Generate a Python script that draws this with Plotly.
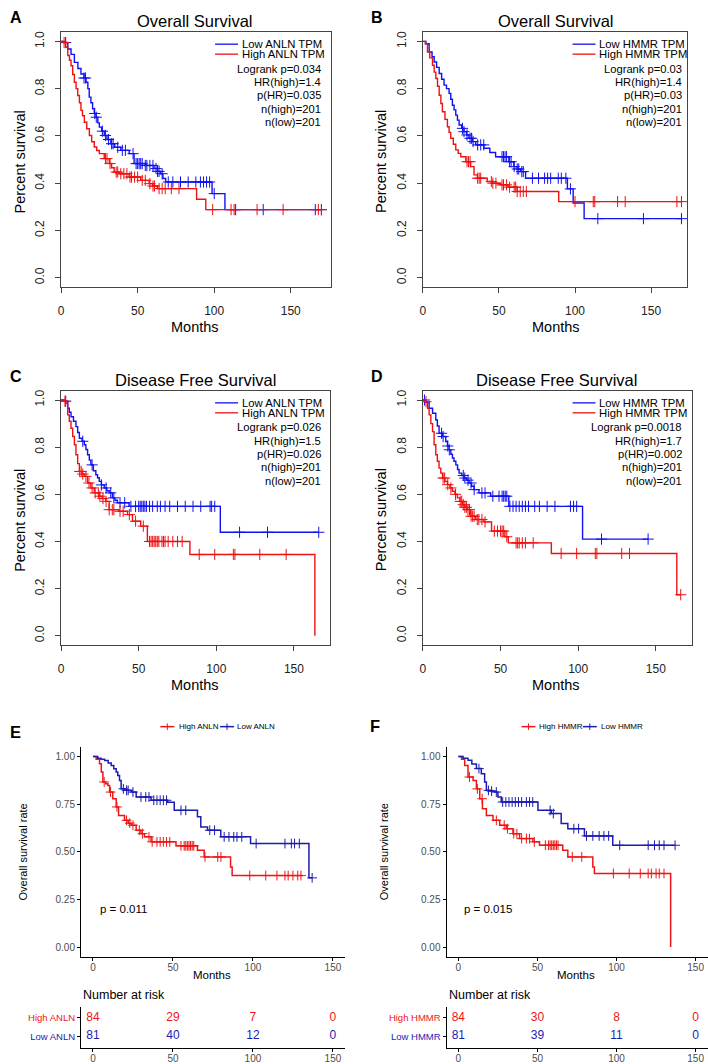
import plotly.graph_objects as go

W, H = 708, 1064
FONT = "Liberation Sans"
BLUE_G, RED_G = "#1010f0", "#f01010"      # GEPIA panels
BLUE_S, RED_S = "#1c1cb0", "#ee1515"      # survminer panels

# ---------------- data (months, survival after each event) ----------------
A_low_t = [2, 4.4, 6.5, 8.7, 11, 13, 15, 16.3, 17.5, 18.4, 19.5, 20.6, 21.7, 22.8, 24, 25, 26.5, 28.2, 30, 32.5, 35, 39, 44.5, 47.7, 55, 60.7, 63, 65, 66.5, 68.3, 98.6, 107]
A_low_s = [0.995, 0.968, 0.945, 0.911, 0.885, 0.862, 0.845, 0.827, 0.80, 0.764, 0.74, 0.715, 0.695, 0.679, 0.655, 0.637, 0.62, 0.602, 0.585, 0.567, 0.552, 0.539, 0.525, 0.483, 0.475, 0.462, 0.45, 0.44, 0.42, 0.405, 0.356, 0.288]
A_low_end = 170
A_low_cens = [3, 15, 16, 22, 23, 27, 29, 31, 33, 34, 37, 40, 42, 47, 49, 50, 51, 52, 53, 55, 56, 58, 60, 62, 63, 64, 66, 70, 73, 78, 83, 88, 91, 93, 95, 97, 100, 114, 132, 166, 170]
A_high_t = [1.5, 3, 4.4, 5.5, 6.5, 7.6, 8.7, 9.8, 10.9, 12, 13, 14, 15.2, 16.8, 18.5, 20, 21.7, 23.3, 25, 28.2, 31.5, 33, 34.7, 38, 44.5, 52, 57.5, 60, 62.9, 88.5, 94.5]
A_high_s = [0.995, 0.975, 0.94, 0.92, 0.897, 0.86, 0.827, 0.80, 0.771, 0.74, 0.708, 0.685, 0.658, 0.63, 0.602, 0.575, 0.553, 0.538, 0.525, 0.504, 0.483, 0.465, 0.447, 0.44, 0.426, 0.412, 0.398, 0.388, 0.377, 0.332, 0.288]
A_high_end = 170
A_high_cens = [2, 29, 30, 32, 36, 37, 39, 41, 43, 45, 46, 48, 50, 53, 55, 58, 60, 61, 64, 66, 68, 72, 77, 99, 111, 113, 128, 145, 168, 170]

B_low_t = [2, 4.1, 6, 7.4, 9, 10.7, 12.3, 13.9, 15.5, 17.2, 18.3, 19.4, 20.5, 21.6, 22.7, 23.8, 25.5, 27, 28.7, 30.3, 32.5, 34.7, 40.1, 44, 47.8, 56.5, 59.8, 62, 64.2, 67.5, 95, 98.8, 106]
B_low_s = [0.99, 0.955, 0.935, 0.913, 0.89, 0.864, 0.84, 0.815, 0.80, 0.78, 0.755, 0.73, 0.71, 0.688, 0.667, 0.646, 0.632, 0.618, 0.604, 0.59, 0.576, 0.562, 0.548, 0.53, 0.512, 0.491, 0.47, 0.46, 0.449, 0.421, 0.376, 0.316, 0.25]
B_low_end = 170
B_low_cens = [26, 27, 29, 31, 32, 33, 36, 38, 40, 52, 53, 54, 55, 57, 58, 60, 62, 63, 65, 66, 72, 76, 80, 82, 84, 89, 91, 94, 97, 115, 145, 170]
B_high_t = [1.5, 3, 4.5, 6.3, 7.4, 8.5, 9.6, 10.7, 11.8, 12.8, 14.5, 16.1, 17.2, 18.3, 20, 21.6, 23.2, 24.9, 28.2, 31.4, 33.6, 35.8, 42.3, 46, 51.1, 56, 62, 89.3]
B_high_s = [0.99, 0.955, 0.93, 0.899, 0.87, 0.843, 0.81, 0.772, 0.737, 0.702, 0.67, 0.639, 0.615, 0.59, 0.565, 0.541, 0.526, 0.512, 0.491, 0.47, 0.435, 0.421, 0.407, 0.40, 0.393, 0.383, 0.365, 0.322]
B_high_end = 170
B_high_cens = [29, 30, 31, 36, 37, 38, 45, 46, 48, 52, 53, 55, 57, 60, 61, 62, 64, 66, 68, 100, 112, 113, 128, 133, 167, 170]

C_low_t = [2, 4.3, 5.3, 6.4, 8, 9.6, 10.7, 11.8, 13.5, 15, 16, 17.1, 18.2, 19.2, 20.8, 22.4, 23.5, 24.6, 26, 27.8, 29.5, 31, 33.1, 34.7, 36.3, 43.8, 102.6]
C_low_s = [0.995, 0.965, 0.948, 0.929, 0.91, 0.887, 0.862, 0.838, 0.825, 0.81, 0.79, 0.768, 0.745, 0.725, 0.70, 0.683, 0.67, 0.655, 0.64, 0.627, 0.615, 0.606, 0.585, 0.575, 0.564, 0.549, 0.439]
C_low_end = 166
C_low_cens = [3, 14, 20, 26, 29, 32, 34, 38, 41, 45, 48, 50, 51, 52, 53, 54, 55, 57, 59, 62, 64, 67, 70, 75, 80, 85, 90, 96, 97, 99, 115, 133, 166]
C_high_t = [2, 3.2, 4.3, 5.3, 6.4, 7.5, 8.6, 9.6, 10.7, 11.8, 13.5, 15, 17.1, 19.2, 21.4, 24.6, 26.5, 28.8, 31, 37.4, 42.8, 46, 51.3, 55.6, 83, 163.5]
C_high_s = [0.995, 0.986, 0.937, 0.91, 0.88, 0.845, 0.81, 0.768, 0.73, 0.697, 0.686, 0.676, 0.648, 0.627, 0.606, 0.592, 0.582, 0.57, 0.535, 0.528, 0.514, 0.486, 0.465, 0.40, 0.345, 0.0]
C_high_end = 163.5
C_high_cens = [2.5, 12, 13, 14, 16, 18, 20, 22, 24, 25, 27, 29, 31, 33, 34, 38, 40, 44, 48, 53, 57, 58, 59, 60, 61, 62, 63, 65, 66, 67, 69, 72, 75, 78, 89, 99, 111, 112, 128, 145]

D_low_t = [2, 4, 6.2, 8.3, 9.3, 10.4, 12.6, 14.7, 15.8, 16.9, 18, 19, 20, 21.2, 22.3, 23.3, 25, 26.5, 28, 29.7, 31.3, 32.9, 36.1, 43.6, 55.3, 102.8]
D_low_s = [0.99, 0.965, 0.944, 0.915, 0.89, 0.859, 0.845, 0.824, 0.805, 0.789, 0.77, 0.754, 0.74, 0.725, 0.705, 0.69, 0.68, 0.669, 0.66, 0.648, 0.634, 0.62, 0.606, 0.592, 0.549, 0.41]
D_low_end = 145
D_low_cens = [1, 12, 13, 16, 17, 26, 27, 29, 31, 33, 38, 40, 45, 49, 51, 52, 53, 54, 56, 58, 60, 62, 64, 66, 68, 72, 75, 80, 85, 95, 97, 99, 115, 145]
D_high_t = [1.5, 3, 4, 5.1, 6.2, 7.2, 8.3, 9.3, 10.4, 11.5, 12.6, 14.2, 15.8, 17.4, 19, 20.6, 22.2, 23.8, 25.4, 27, 28.6, 30.8, 34, 39.3, 44.2, 52.8, 55, 82.7, 163.5]
D_high_s = [0.993, 0.965, 0.937, 0.9, 0.866, 0.81, 0.768, 0.74, 0.711, 0.69, 0.669, 0.655, 0.641, 0.627, 0.613, 0.6, 0.585, 0.57, 0.556, 0.545, 0.535, 0.507, 0.493, 0.483, 0.444, 0.42, 0.394, 0.349, 0.174]
D_high_end = 166
D_high_cens = [2, 13, 14, 16, 18, 21, 24, 25, 26, 27, 28, 29, 30, 31, 32, 33, 35, 36, 38, 40, 46, 48, 50, 51, 52, 54, 60, 61, 62, 64, 66, 71, 89, 99, 111, 112, 128, 133, 166]

E_low_t = [3, 5, 7.3, 9.5, 11.4, 13, 14.5, 15.5, 16.6, 17.6, 20, 23.8, 27, 36.3, 46.7, 50.8, 65.3, 67.4, 71.6, 79.9, 98.5, 135]
E_low_s = [0.99, 0.985, 0.978, 0.965, 0.953, 0.935, 0.918, 0.9, 0.874, 0.83, 0.822, 0.813, 0.787, 0.77, 0.76, 0.717, 0.683, 0.63, 0.613, 0.578, 0.543, 0.363]
E_low_end = 137
E_low_cens = [19, 21, 22, 25, 30, 33, 35, 38, 40, 42, 44, 46, 55, 58, 73, 76, 82, 85, 88, 90, 93, 102, 120, 124, 126, 129, 137]
E_high_t = [2, 4.1, 5.2, 6.2, 8, 9.3, 10.4, 12.4, 14.5, 16, 19.7, 22, 23.8, 27, 30, 32.2, 36.3, 51.9, 65.3, 69.5, 86, 87]
E_high_s = [0.985, 0.962, 0.918, 0.866, 0.857, 0.848, 0.813, 0.778, 0.735, 0.69, 0.665, 0.65, 0.639, 0.613, 0.595, 0.578, 0.552, 0.531, 0.508, 0.473, 0.42, 0.375]
E_high_end = 131
E_high_cens = [7, 11, 15, 21, 23, 25, 29, 31, 35, 37, 40, 42, 44, 46, 48, 55, 57, 58, 59, 60, 61, 62, 63, 70, 78, 80, 98, 108, 115, 120, 122, 125, 128, 130]

F_low_t = [3, 6.1, 8.5, 11.4, 14.5, 16.6, 17.7, 20, 23, 25, 27.1, 50.3, 58.7, 65, 69.2, 79.7, 97.6]
F_low_s = [0.99, 0.98, 0.96, 0.936, 0.909, 0.866, 0.822, 0.818, 0.813, 0.787, 0.761, 0.717, 0.70, 0.648, 0.621, 0.583, 0.534]
F_low_end = 137
F_low_cens = [13, 19, 21, 24, 28, 30, 32, 34, 36, 38, 40, 43, 45, 47, 58, 60, 73, 76, 81, 85, 89, 92, 95, 102, 120, 124, 127, 130, 137]
F_high_t = [2, 4, 6.1, 9.3, 11.4, 13.5, 15.2, 17.7, 21.9, 26.1, 30.3, 34.5, 38.7, 47.1, 51.3, 66, 69.2, 85, 86, 134.2]
F_high_s = [0.985, 0.953, 0.892, 0.874, 0.83, 0.778, 0.726, 0.69, 0.665, 0.639, 0.621, 0.595, 0.569, 0.552, 0.534, 0.508, 0.473, 0.42, 0.386, 0.0]
F_high_end = 134.2
F_high_cens = [7, 12, 15, 24, 29, 31, 35, 37, 40, 43, 45, 48, 55, 57, 58, 59, 60, 61, 62, 63, 72, 78, 98, 108, 115, 120, 122, 125, 127, 130]

risk_times = [0, 50, 100, 150]
E_high_risk = [84, 29, 7, 0]
E_low_risk = [81, 40, 12, 0]
F_high_risk = [84, 30, 8, 0]
F_low_risk = [81, 39, 11, 0]

gepia_stats = {
    "A": ["Logrank p=0.034", "HR(high)=1.4", "p(HR)=0.035", "n(high)=201", "n(low)=201"],
    "B": ["Logrank p=0.03", "HR(high)=1.4", "p(HR)=0.03", "n(high)=201", "n(low)=201"],
    "C": ["Logrank p=0.026", "HR(high)=1.5", "p(HR)=0.026", "n(high)=201", "n(low)=201"],
    "D": ["Logrank p=0.0018", "HR(high)=1.7", "p(HR)=0.002", "n(high)=201", "n(low)=201"],
}

# ---------------- helpers ----------------
def px(x):
    return x / W

def py(y):
    return 1 - y / H

def surv_at(t, times, survs):
    s = 1.0
    for ti, si in zip(times, survs):
        if ti <= t:
            s = si
    return s

fig = go.Figure()
annotations = []
shapes = []

def km(idx, times, survs, end, cens, color, width, msize):
    xa, ya = ("x", "y") if idx == 1 else (f"x{idx}", f"y{idx}")
    fig.add_trace(go.Scatter(x=[0] + times + [end], y=[1.0] + survs + [survs[-1]],
                             mode="lines", line=dict(color=color, width=width, shape="hv"),
                             xaxis=xa, yaxis=ya, showlegend=False, hoverinfo="skip"))
    fig.add_trace(go.Scatter(x=cens, y=[surv_at(c, times, survs) for c in cens], mode="markers",
                             marker=dict(symbol="cross-thin", size=msize, line=dict(width=1, color=color)),
                             xaxis=xa, yaxis=ya, showlegend=False, hoverinfo="skip"))

def ann(x, y, text, size, color="black", xanchor="center", yanchor="middle", angle=0, bold=False):
    annotations.append(dict(x=px(x), y=py(y), xref="paper", yref="paper", text=f"<b>{text}</b>" if bold else text,
                            showarrow=False, xanchor=xanchor, yanchor=yanchor, textangle=angle,
                            font=dict(family=FONT, size=size, color=color)))

def hline(x0, x1, y, color, w=1.3):
    shapes.append(dict(type="line", xref="paper", yref="paper", x0=px(x0), x1=px(x1), y0=py(y), y1=py(y),
                       line=dict(color=color, width=w)))

def vline(x, y0, y1, color, w=1):
    shapes.append(dict(type="line", xref="paper", yref="paper", x0=px(x), x1=px(x), y0=py(y0), y1=py(y1),
                       line=dict(color=color, width=w)))

layout_axes = {}

def gepia_axes(idx, x0, x1, y0, y1, xmax):
    sx = "" if idx == 1 else str(idx)
    layout_axes[f"xaxis{sx}"] = dict(domain=[px(x0), px(x1)], range=[0, xmax], anchor=f"y{sx}",
        showline=True, mirror=True, linecolor="#444", linewidth=1, ticks="outside", ticklen=5,
        tickcolor="#444", showgrid=False, zeroline=False, tickvals=[0, 50, 100, 150],
        ticklabelstandoff=7, tickfont=dict(family=FONT, size=12, color="#222"))
    layout_axes[f"yaxis{sx}"] = dict(domain=[py(y1), py(y0)], range=[-0.04, 1.04], anchor=f"x{sx}",
        showline=True, mirror=True, linecolor="#444", linewidth=1, ticks="outside", ticklen=5,
        tickcolor="#444", showgrid=False, zeroline=False, tickvals=[0, 0.2, 0.4, 0.6, 0.8, 1.0],
        ticktext=["0.0", "0.2", "0.4", "0.6", "0.8", "1.0"], tickangle=-90, ticklabelstandoff=6,
        tickfont=dict(family=FONT, size=12, color="#222"))

def gg_axes(idx, x0, x1, y0, y1, yr, yvals, ytext):
    sx = str(idx)
    layout_axes[f"xaxis{sx}"] = dict(domain=[px(x0), px(x1)], range=[-7.5, 157.5], anchor=f"y{sx}",
        showline=True, mirror=False, linecolor="black", linewidth=1, ticks="outside", ticklen=3,
        tickcolor="black", showgrid=False, zeroline=False, tickvals=risk_times, ticklabelstandoff=-2,
        tickfont=dict(family=FONT, size=10, color="#4d4d4d"))
    layout_axes[f"yaxis{sx}"] = dict(domain=[py(y1), py(y0)], range=yr, anchor=f"x{sx}",
        showline=True, mirror=False, linecolor="black", linewidth=1, ticks="outside", ticklen=3,
        tickcolor="black", showgrid=False, zeroline=False, tickvals=yvals, ticktext=ytext,
        tickfont=dict(family=FONT, size=10, color="#4d4d4d"))

# ---------------- GEPIA panels A-D ----------------
gepia = [
    (1, "A", "Overall Survival", "ANLN", (58.3, 329, 31, 287, 176), 238, 321, A_low_t, A_low_s, A_low_end, A_low_cens,
     A_high_t, A_high_s, A_high_end, A_high_cens),
    (2, "B", "Overall Survival", "HMMR", (421.7, 687, 31, 287, 173.7), 597, 684, B_low_t, B_low_s, B_low_end, B_low_cens,
     B_high_t, B_high_s, B_high_end, B_high_cens),
    (3, "C", "Disease Free Survival", "ANLN", (58.3, 328, 390.7, 646, 173), 238, 321, C_low_t, C_low_s, C_low_end, C_low_cens,
     C_high_t, C_high_s, C_high_end, C_high_cens),
    (4, "D", "Disease Free Survival", "HMMR", (421.7, 692.3, 390.7, 646, 173.5), 597, 684, D_low_t, D_low_s, D_low_end, D_low_cens,
     D_high_t, D_high_s, D_high_end, D_high_cens),
]
for idx, lab, title, gene, box, legx, right, lt, ls, le, lc, ht, hs, he, hc in gepia:
    x0, x1, y0, y1, xmax = box
    gepia_axes(idx, x0, x1, y0, y1, xmax)
    km(idx, lt, ls, le, lc, BLUE_G, 1.4, 8)
    km(idx, ht, hs, he, hc, RED_G, 1.4, 8)
    cx = 193 if idx in (1, 3) else 555.7
    ann(cx, y0 - 11, title, 16.5)
    ann(cx, y1 + 40, "Months", 14.5)
    ann(17 if idx in (1, 3) else 379, (y0 + y1) / 2 + 2, "Percent survival", 14.5, angle=-90)
    ann(13 if idx in (1, 3) else 376, y0 - 14, lab, 16, bold=True)
    ly = y0 + 12.3
    hline(legx - 25, legx - 2, ly, BLUE_G)
    hline(legx - 25, legx - 2, ly + 10, RED_G)
    ann(legx, ly, f"Low {gene} TPM", 11.3, xanchor="left")
    ann(legx, ly + 10, f"High {gene} TPM", 11.3, xanchor="left")
    for k, s in enumerate(gepia_stats[lab]):
        ann(right, ly + 24.5 + 13.4 * k, s, 11.2, xanchor="right")

# ---------------- survminer panels E-F ----------------
ytk = [0, 0.25, 0.5, 0.75, 1.0]
ytt = ["0.00", "0.25", "0.50", "0.75", "1.00"]
surv = [
    (5, 7, "E", "ANLN", 78.3, 343.4, 13, 733, 20, 210, "p = 0.011", 95,
     E_low_t, E_low_s, E_low_end, E_low_cens, E_high_t, E_high_s, E_high_end, E_high_cens,
     E_high_risk, E_low_risk, (158, 175, 218, 233)),
    (6, 8, "F", "HMMR", 445.4, 707.5, 374, 727, 382.3, 575.7, "p = 0.015", 461.3,
     F_low_t, F_low_s, F_low_end, F_low_cens, F_high_t, F_high_s, F_high_end, F_high_cens,
     F_high_risk, F_low_risk, (520.7, 536.7, 582.3, 599)),
]
for (idx, ridx, lab, gene, x0, x1, labx, laby, ylabx, monx, ptxt, ptx,
     lt, ls, le, lc, ht, hs, he, hc, hrisk, lrisk, lg) in surv:
    gg_axes(idx, x0, x1, 748, 958.3, [-0.05, 1.05], ytk, ytt)
    km(idx, ht, hs, he, hc, RED_S, 1.5, 7)
    km(idx, lt, ls, le, lc, BLUE_S, 1.5, 7)
    ann(labx, laby, lab, 16.5, bold=True)
    ann(monx, 976.7, "Months", 11.5)
    ann(ylabx, 853, "Overall survival rate", 11, angle=-90)
    ann(ptx, 911, ptxt, 11.5, xanchor="left")
    # legend
    r0, rt, b0, bt = lg
    hline(r0, r0 + 14, 727.7, RED_S, 1.5)
    vline(r0 + 7, 724.5, 731, RED_S)
    ann(rt, 727.7, f"High {gene}", 8, xanchor="left")
    hline(b0, b0 + 14, 727.7, BLUE_S, 1.5)
    vline(b0 + 7, 724.5, 731, BLUE_S)
    ann(bt, 727.7, f"Low {gene}", 8, xanchor="left")
    # risk table
    layout_axes[f"xaxis{ridx}"] = dict(domain=[px(x0), px(x1)], range=[-7.5, 157.5], anchor=f"y{ridx}",
        showline=True, linecolor="black", linewidth=1, ticks="outside", ticklen=3, tickcolor="black",
        showgrid=False, zeroline=False, tickvals=risk_times, ticklabelstandoff=-2,
        tickfont=dict(family=FONT, size=10, color="#4d4d4d"))
    layout_axes[f"yaxis{ridx}"] = dict(domain=[py(1049.5), py(1008.6)], range=[0.4, 2.6], anchor=f"x{ridx}",
        showline=True, linecolor="black", linewidth=1, ticks="outside", ticklen=3, tickcolor="black",
        showgrid=False, zeroline=False, tickvals=[1, 2],
        ticktext=[f"<span style='color:{BLUE_S}'>Low {gene}</span>", f"<span style='color:{RED_S}'>High {gene}</span>"],
        tickfont=dict(family=FONT, size=9.5))
    fig.add_trace(go.Scatter(x=risk_times, y=[2] * 4, text=[str(v) for v in hrisk], mode="text",
                             textfont=dict(family=FONT, size=12, color=RED_S),
                             xaxis=f"x{ridx}", yaxis=f"y{ridx}", showlegend=False, hoverinfo="skip"))
    fig.add_trace(go.Scatter(x=risk_times, y=[1] * 4, text=[str(v) for v in lrisk], mode="text",
                             textfont=dict(family=FONT, size=12, color=BLUE_S),
                             xaxis=f"x{ridx}", yaxis=f"y{ridx}", showlegend=False, hoverinfo="skip"))
    ann(x0, 997, "Number at risk", 12.5, xanchor="left")

fig.update_layout(width=W, height=H, margin=dict(l=0, r=0, t=0, b=0),
                  paper_bgcolor="white", plot_bgcolor="white", showlegend=False,
                  annotations=annotations, shapes=shapes, **layout_axes)
fig.write_html("out.html", config={"displayModeBar": False},
               post_script="document.body.style.margin='0px';document.body.style.overflow='hidden';")
